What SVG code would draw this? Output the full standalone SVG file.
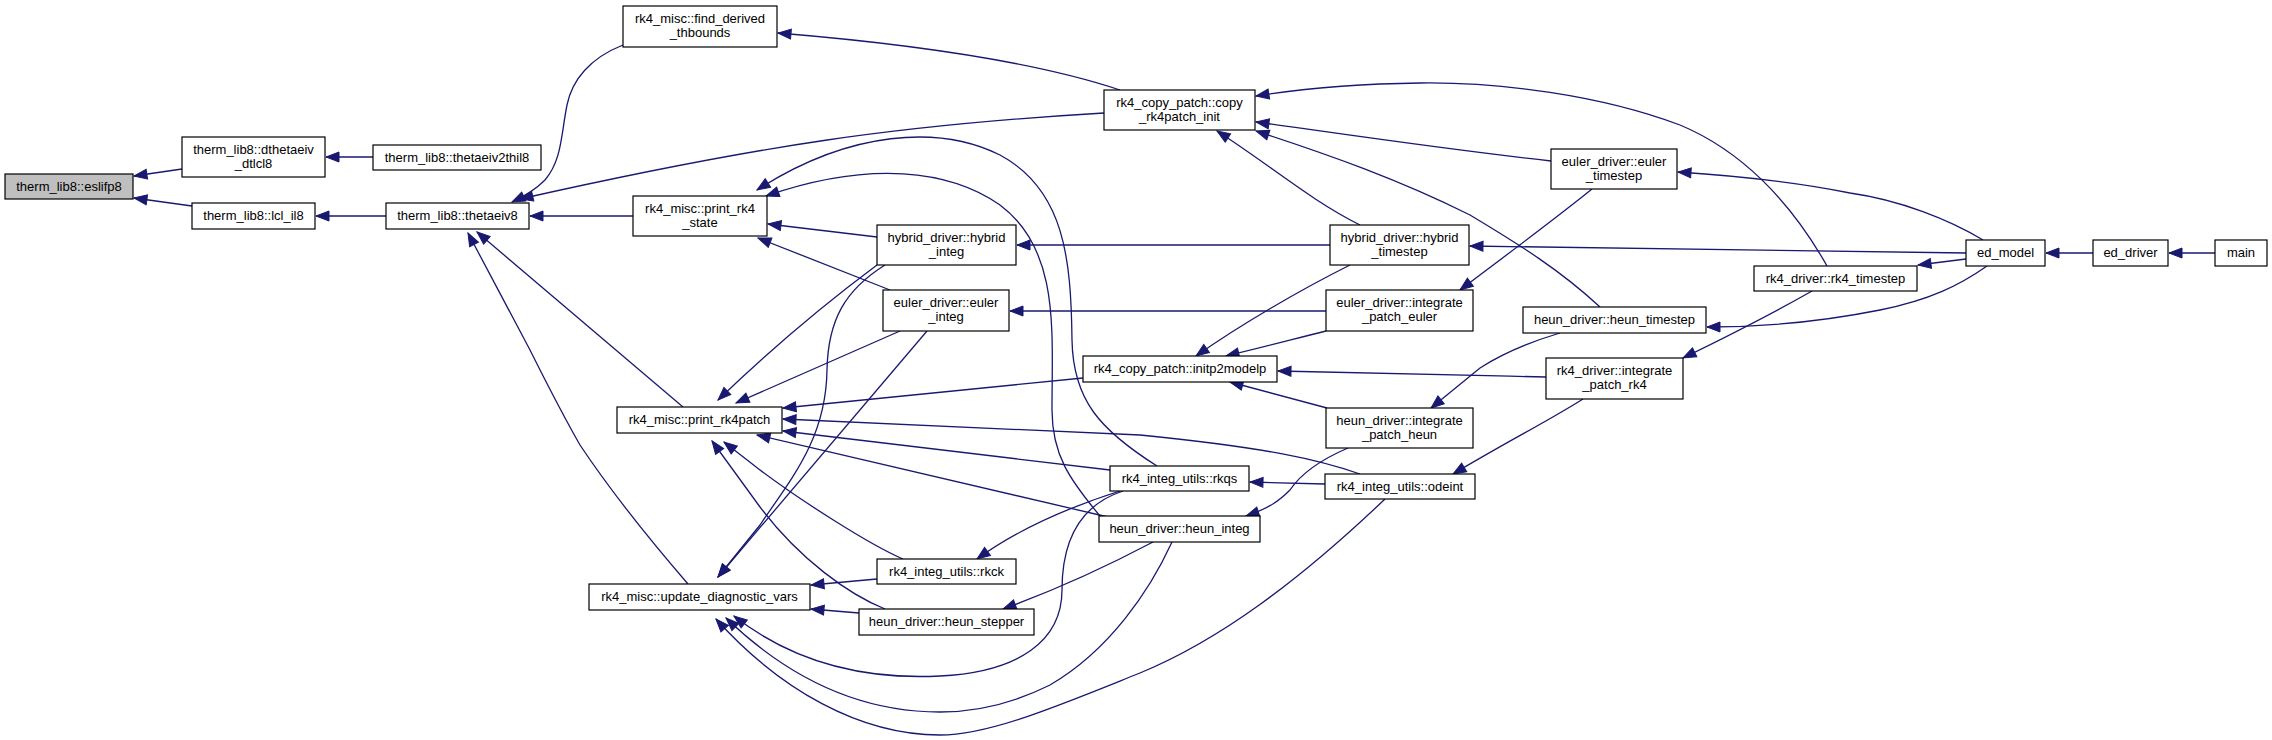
<svg xmlns="http://www.w3.org/2000/svg" width="2272" height="740" viewBox="0 0 2272 740">
<style>
.n rect{fill:#fff;stroke:#000;stroke-width:1.2}
.n.h rect{fill:#bfbfbf}
.n text{font-family:"Liberation Sans",Arial,sans-serif;font-size:13px;fill:#000;text-anchor:middle}
.e path{fill:none;stroke:#191970;stroke-width:1.3;marker-end:url(#a)}
</style>
<defs>
<marker id="a" markerUnits="userSpaceOnUse" markerWidth="14" markerHeight="10" refX="13" refY="5" orient="auto" overflow="visible">
<path d="M0,0 L13,5 L0,10 z" fill="#191970" stroke="#191970" stroke-width="1"/>
</marker>
</defs>
<rect width="2272" height="740" fill="#fff"/>
<g id="edges" class="e">
<path d="M182,169 L134,176"/>
<path d="M192,206 L134,198"/>
<path d="M373,157 L326,157"/>
<path d="M386,216 L316,216"/>
<path d="M623,45 C590,58 572,80 567,105 C561,135 562,160 545,180 C535,190 525,196 512,202"/>
<path d="M1104,113 C900,125 760,145 520,199"/>
<path d="M633,216 L530,216"/>
<path d="M683,407 L477,232"/>
<path d="M688,584 C650,540 610,490 580,445 C560,410 545,380 530,350 L468,233"/>
<path d="M1120,90 C1060,70 960,48 778,33"/>
<path d="M877,237 L768,224"/>
<path d="M890,290 L758,238"/>
<path d="M1157,466 C1100,430 1073,400 1072,340 C1071,260 1065,190 1000,155 C940,125 850,130 757,190"/>
<path d="M1100,516 C1070,480 1052,455 1052,410 C1052,330 1060,250 1000,205 C950,170 870,160 766,196"/>
<path d="M877,265 C830,300 770,350 718,400"/>
<path d="M900,331 L736,403"/>
<path d="M885,265 C845,290 828,320 827,370 C826,440 790,480 760,525 L718,577"/>
<path d="M927,331 L718,577"/>
<path d="M1083,378 L783,408"/>
<path d="M1360,474 C1320,460 1270,448 1140,435 L783,419"/>
<path d="M1110,470 L783,431"/>
<path d="M1108,517 L757,435"/>
<path d="M903,559 C870,545 800,500 760,470 L724,442"/>
<path d="M885,609 C850,595 800,560 760,507 L712,441"/>
<path d="M877,579 L811,585"/>
<path d="M859,613 L811,609"/>
<path d="M1123,491 C1080,505 1062,540 1062,590 C1062,640 1020,672 940,676 C860,680 790,660 734,616"/>
<path d="M1172,542 C1150,590 1110,650 1050,685 C1010,705 975,712 940,712 C850,712 780,670 726,618"/>
<path d="M1385,499 C1300,580 1220,640 1140,673 C1060,705 990,735 940,735 C860,735 780,690 716,619"/>
<path d="M1330,245 L1017,245"/>
<path d="M1326,311 L1010,311"/>
<path d="M1350,265 C1300,290 1240,325 1196,356"/>
<path d="M1326,331 C1290,340 1260,348 1226,356"/>
<path d="M1327,408 L1230,382"/>
<path d="M1546,377 C1450,375 1350,372 1278,371"/>
<path d="M1360,225 C1310,200 1270,165 1217,131"/>
<path d="M1600,307 C1560,270 1520,245 1470,215 C1400,180 1330,155 1256,131"/>
<path d="M1551,161 C1450,150 1350,135 1256,122"/>
<path d="M1827,266 C1790,200 1740,150 1680,125 C1600,95 1500,82 1420,83 C1350,84 1300,89 1256,96"/>
<path d="M1966,253 L1470,246"/>
<path d="M1983,240 C1950,220 1900,200 1850,193 C1800,183 1740,176 1678,172"/>
<path d="M1987,266 C1960,285 1930,300 1880,310 C1820,322 1760,327 1707,327"/>
<path d="M1966,259 L1918,265"/>
<path d="M2093,253 L2046,253"/>
<path d="M2215,253 L2169,253"/>
<path d="M1812,291 C1770,315 1720,340 1683,358"/>
<path d="M1583,399 C1550,420 1510,440 1453,474"/>
<path d="M1560,333 C1530,342 1500,355 1480,368 L1431,408"/>
<path d="M1348,448 C1320,460 1300,475 1290,490 C1280,500 1270,508 1246,516"/>
<path d="M1325,484 L1250,482"/>
<path d="M1120,491 C1060,510 1010,535 977,559"/>
<path d="M1153,542 C1100,570 1050,592 1003,609"/>
<path d="M1592,189 C1560,215 1520,245 1460,290"/>
</g>
<g id="eslifp8" class="n h"><rect x="5" y="174" width="128" height="25"/><text x="69" y="190.5">therm_lib8::eslifp8</text></g>
<g id="dthetaeiv_dtlcl8" class="n"><rect x="182" y="137" width="143" height="40"/><text x="253.5" y="153.5">therm_lib8::dthetaeiv</text><text x="253.5" y="167.5">_dtlcl8</text></g>
<g id="lcl_il8" class="n"><rect x="192" y="203" width="123" height="26"/><text x="253.5" y="220">therm_lib8::lcl_il8</text></g>
<g id="thetaeiv2thil8" class="n"><rect x="373" y="145" width="168" height="25"/><text x="457" y="161.5">therm_lib8::thetaeiv2thil8</text></g>
<g id="thetaeiv8" class="n"><rect x="386" y="203" width="143" height="26"/><text x="457.5" y="220">therm_lib8::thetaeiv8</text></g>
<g id="find_derived_thbounds" class="n"><rect x="623" y="6" width="154" height="41"/><text x="700" y="23">rk4_misc::find_derived</text><text x="700" y="37">_thbounds</text></g>
<g id="print_rk4_state" class="n"><rect x="633" y="196" width="134" height="40"/><text x="700" y="212.5">rk4_misc::print_rk4</text><text x="700" y="226.5">_state</text></g>
<g id="print_rk4patch" class="n"><rect x="617" y="407" width="165" height="26"/><text x="699.5" y="424">rk4_misc::print_rk4patch</text></g>
<g id="update_diagnostic_vars" class="n"><rect x="589" y="584" width="221" height="26"/><text x="699.5" y="601">rk4_misc::update_diagnostic_vars</text></g>
<g id="hybrid_integ" class="n"><rect x="877" y="225" width="139" height="40"/><text x="946.5" y="241.5">hybrid_driver::hybrid</text><text x="946.5" y="255.5">_integ</text></g>
<g id="euler_integ" class="n"><rect x="883" y="290" width="126" height="41"/><text x="946" y="307">euler_driver::euler</text><text x="946" y="321">_integ</text></g>
<g id="rkck" class="n"><rect x="877" y="559" width="139" height="25"/><text x="946.5" y="575.5">rk4_integ_utils::rkck</text></g>
<g id="heun_stepper" class="n"><rect x="859" y="609" width="175" height="26"/><text x="946.5" y="626">heun_driver::heun_stepper</text></g>
<g id="copy_rk4patch_init" class="n"><rect x="1104" y="90" width="151" height="40"/><text x="1179.5" y="106.5">rk4_copy_patch::copy</text><text x="1179.5" y="120.5">_rk4patch_init</text></g>
<g id="initp2modelp" class="n"><rect x="1083" y="356" width="194" height="26"/><text x="1180" y="373">rk4_copy_patch::initp2modelp</text></g>
<g id="rkqs" class="n"><rect x="1110" y="466" width="139" height="25"/><text x="1179.5" y="482.5">rk4_integ_utils::rkqs</text></g>
<g id="heun_integ" class="n"><rect x="1099" y="516" width="161" height="26"/><text x="1179.5" y="533">heun_driver::heun_integ</text></g>
<g id="hybrid_timestep" class="n"><rect x="1330" y="225" width="139" height="40"/><text x="1399.5" y="241.5">hybrid_driver::hybrid</text><text x="1399.5" y="255.5">_timestep</text></g>
<g id="integrate_patch_euler" class="n"><rect x="1326" y="290" width="147" height="41"/><text x="1399.5" y="307">euler_driver::integrate</text><text x="1399.5" y="321">_patch_euler</text></g>
<g id="integrate_patch_heun" class="n"><rect x="1326" y="408" width="147" height="40"/><text x="1399.5" y="424.5">heun_driver::integrate</text><text x="1399.5" y="438.5">_patch_heun</text></g>
<g id="odeint" class="n"><rect x="1325" y="474" width="150" height="25"/><text x="1400" y="490.5">rk4_integ_utils::odeint</text></g>
<g id="euler_timestep" class="n"><rect x="1551" y="149" width="126" height="40"/><text x="1614" y="165.5">euler_driver::euler</text><text x="1614" y="179.5">_timestep</text></g>
<g id="heun_timestep" class="n"><rect x="1523" y="307" width="183" height="26"/><text x="1614.5" y="324">heun_driver::heun_timestep</text></g>
<g id="rk4_timestep" class="n"><rect x="1754" y="266" width="163" height="25"/><text x="1835.5" y="282.5">rk4_driver::rk4_timestep</text></g>
<g id="integrate_patch_rk4" class="n"><rect x="1546" y="358" width="137" height="41"/><text x="1614.5" y="375">rk4_driver::integrate</text><text x="1614.5" y="389">_patch_rk4</text></g>
<g id="ed_model" class="n"><rect x="1966" y="240" width="79" height="26"/><text x="2005.5" y="257">ed_model</text></g>
<g id="ed_driver" class="n"><rect x="2093" y="240" width="75" height="26"/><text x="2130.5" y="257">ed_driver</text></g>
<g id="main" class="n"><rect x="2215" y="240" width="52" height="26"/><text x="2241" y="257">main</text></g>
</svg>
